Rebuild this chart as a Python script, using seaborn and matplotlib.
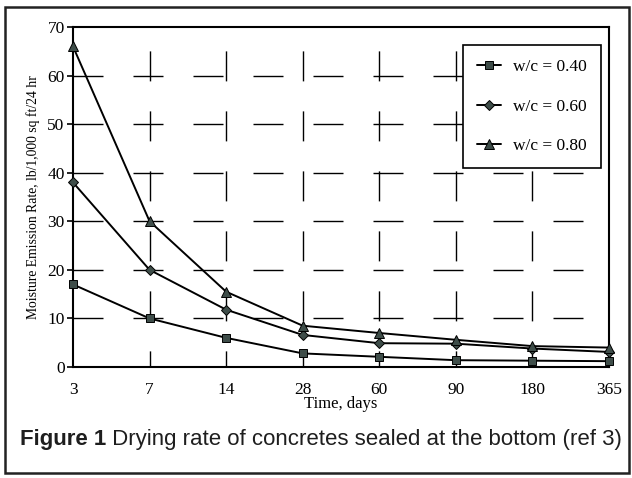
import matplotlib
matplotlib.use('Agg')
import matplotlib.pyplot as plt
import seaborn as sns
import pandas as pd
from matplotlib.patches import Rectangle

# --- Data ---
days = ['3', '7', '14', '28', '60', '90', '180', '365']
wc_040 = [17, 10, 6, 2.8, 2.1, 1.4, 1.3, 1.2]
wc_060 = [38, 20, 11.8, 6.6, 4.9, 4.8, 3.8, 3.1]
wc_080 = [66, 30, 15.5, 8.5, 7.0, 5.6, 4.3, 4.0]

series = {'w/c = 0.40': (wc_040, 's', 6),
          'w/c = 0.60': (wc_060, 'D', 5),
          'w/c = 0.80': (wc_080, '^', 6.5)}

sns.set_theme(style='white')
plt.rcParams['font.family'] = ['Liberation Serif', 'DejaVu Serif']

fig = plt.figure(figsize=(6.32, 4.78), dpi=100)
ax = fig.add_axes([73 / 632, 1 - 367 / 478, 536 / 632, 340 / 478])

pos = list(range(len(days)))
for label, (vals, mk, ms) in series.items():
    df = pd.DataFrame({'pos': pos, 'rate': vals})
    sns.lineplot(data=df, x='pos', y='rate', ax=ax, color='black', lw=1.4,
                 marker=mk, markersize=ms, markerfacecolor='#3e4d49',
                 markeredgecolor='black', markeredgewidth=0.7,
                 label=label, clip_on=False, zorder=3)

ax.set_xlim(0, len(days) - 1)
ax.set_ylim(0, 70)
ax.set_xticks(pos)
ax.set_xticklabels(days)
ax.set_yticks(range(0, 71, 10))

# dashed grid
for y in range(10, 61, 10):
    ax.axhline(y, color='black', lw=1, ls=(0, (21.6, 21.6)), zorder=1)
for x in pos[1:-1]:
    ax.axvline(x, color='black', lw=1, ls=(10, (21.6, 21.6)), zorder=1)

for s in ax.spines.values():
    s.set_color('black')
    s.set_linewidth(1.5)

ax.tick_params(axis='y', which='both', left=True, length=4, width=1.2,
               color='black', pad=2, labelsize=12.5, labelcolor='black')
ax.tick_params(axis='x', length=0, pad=11, labelsize=12.5, labelcolor='black')

ax.set_xlabel('Time, days', fontsize=12, color='black', labelpad=-2)
ax.set_ylabel('Moisture Emission Rate, lb/1,000 sq ft/24 hr', fontsize=9.8,
              color='black', labelpad=5)

leg = ax.legend(loc='upper right', bbox_to_anchor=(0.985, 0.947),
                borderaxespad=0, fontsize=12.5, frameon=True, fancybox=False,
                edgecolor='black', framealpha=1, handlelength=1.4,
                handletextpad=0.7, labelspacing=1.35, borderpad=0.8)
leg.get_frame().set_linewidth(1.2)
for t in leg.get_texts():
    t.set_color('black')

# caption
cap = fig.text(20 / 632, 1 - 440 / 478, 'Figure 1', fontsize=16, fontweight='bold',
               family='Liberation Sans', color='#1e1e1e', va='center')
ax.annotate(' Drying rate of concretes sealed at the bottom (ref 3)',
            xy=(1, 0.5), xycoords=cap, va='center', ha='left', fontsize=16,
            family='Liberation Sans', color='#1e1e1e', annotation_clip=False)

# outer frame
fig.patches.append(Rectangle((5 / 632, 1 - 473 / 478), 624 / 632, 466 / 478,
                             transform=fig.transFigure, fill=False,
                             edgecolor='#222222', lw=1.8))

fig.savefig('out.png', dpi=100)
